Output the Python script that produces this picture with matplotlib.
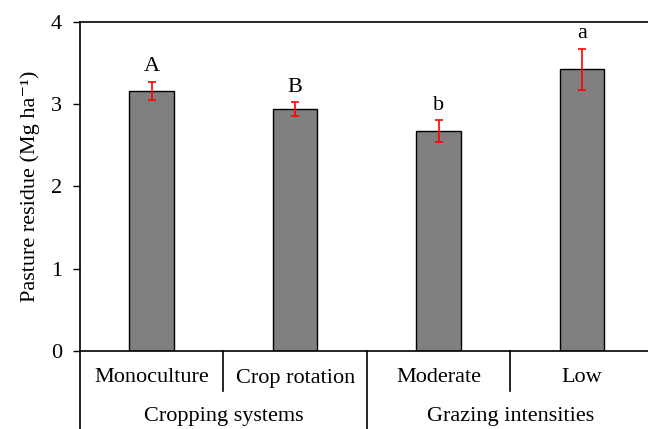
import matplotlib.pyplot as plt
import matplotlib.transforms as mtransforms
from matplotlib.lines import Line2D

plt.rcParams['font.family'] = ['Liberation Serif', 'DejaVu Serif']

# data
categories = ['Monoculture', 'Crop rotation', 'Moderate', 'Low']
groups = ['Cropping systems', 'Grazing intensities']
means = [3.16, 2.94, 2.67, 3.42]
errors = [0.11, 0.08, 0.13, 0.25]
letters = ['A', 'B', 'b', 'a']

FS = 16

fig = plt.figure(figsize=(6.48, 4.29), dpi=100)
W, H = 648, 429
ax = fig.add_axes([80 / W, (H - 351) / H, (653.7 - 80) / W, (351 - 21.7) / H])

x = range(len(categories))
ax.bar(x, means, width=0.31, color='#808080', edgecolor='black', linewidth=1.0, zorder=2)
ax.errorbar(x, means, yerr=errors, fmt='none', ecolor='red', elinewidth=1.2,
            capsize=3.2, capthick=1.2, zorder=3)

for i, (m, e, l) in enumerate(zip(means, errors, letters)):
    ax.text(i, m + e + 0.13, l, ha='center', va='baseline', fontsize=FS)

ax.set_xlim(-0.5, 3.5)
ax.set_ylim(0, 4)
ax.set_yticks([0, 1, 2, 3, 4])
ax.set_xticks([])
ax.tick_params(axis='y', direction='out', length=5, width=1.0, labelsize=FS, pad=8)
for s in ax.spines.values():
    s.set_linewidth(1.2)

ax.set_ylabel('Pasture residue (Mg ha⁻¹)', fontsize=FS, labelpad=8)

# two-level x axis labels
trans = mtransforms.blended_transform_factory(ax.transData, ax.transAxes)
py = lambda p: (351 - p) / (351 - 21.7)
for i, c in enumerate(categories):
    ax.text(i, py(378), c, transform=trans, ha='center', va='center', fontsize=FS)
for j, g in enumerate(groups):
    ax.text(2 * j + 0.5, py(416), g, transform=trans, ha='center', va='center', fontsize=FS)

for xs, bottom in [(-0.5, 440), (0.5, 391), (1.5, 440), (2.5, 391)]:
    ax.add_line(Line2D([xs, xs], [0, py(bottom)], transform=trans, color='black',
                       linewidth=1.2, clip_on=False))

fig.savefig('out.png', dpi=100)
